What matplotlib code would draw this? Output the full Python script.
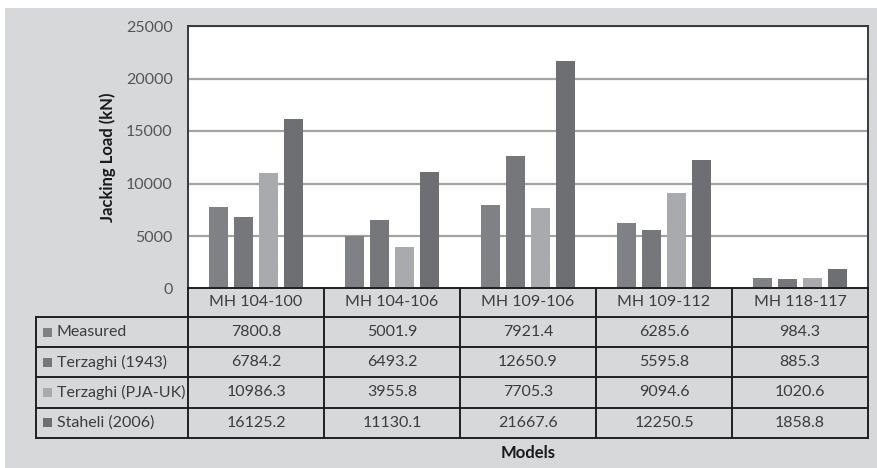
import matplotlib
matplotlib.use("Agg")
import matplotlib.pyplot as plt
from matplotlib.patches import Rectangle
import numpy as np

# ---- data ----
models = ["MH 104-100", "MH 104-106", "MH 109-106", "MH 109-112", "MH 118-117"]
series_names = ["Measured", "Terzaghi (1943)", "Terzaghi (PJA-UK)", "Staheli (2006)"]
measured = [7800.8, 5001.9, 7921.4, 6285.6, 984.3]
terzaghi_1943 = [6784.2, 6493.2, 12650.9, 5595.8, 885.3]
terzaghi_pja = [10986.3, 3955.8, 7705.3, 9094.6, 1020.6]
staheli_2006 = [16125.2, 11130.1, 21667.6, 12250.5, 1858.8]
series_values = [measured, terzaghi_1943, terzaghi_pja, staheli_2006]
y_ticks = [0, 5000, 10000, 15000, 20000, 25000]

colors = ["#808184", "#76777a", "#a9aaad", "#6e6f72"]
bg = "#d7d8da"
font = ["Lato", "DejaVu Sans"]
plt.rcParams["font.family"] = font

W, H = 877, 468
fig = plt.figure(figsize=(W / 100, H / 100), dpi=100, facecolor="white")

# gray panel behind everything
fig.patches.append(Rectangle((5 / W, 0), 1 - 5 / W, 1 - 8 / H,
                             transform=fig.transFigure, facecolor=bg,
                             edgecolor="none", zorder=-10))


def px_axes(left, top, right, bottom):
    return fig.add_axes([left / W, 1 - bottom / H, (right - left) / W, (bottom - top) / H])


# ---- bar chart ----
x_left, x_right, y_top, y_bot = 188, 868, 26, 288.5
ax = px_axes(x_left, y_top, x_right, y_bot)
ax.set_facecolor("white")
n = len(models)
xc = np.arange(n) + 0.5
offsets = [-0.274, -0.091, 0.092, 0.275]
bw = 0.14
for vals, off, c in zip(series_values, offsets, colors):
    ax.bar(xc + off, vals, width=bw, color=c, zorder=3)
ax.set_xlim(0, n)
ax.set_ylim(0, 25000)
ax.set_yticks(y_ticks)
ax.set_yticklabels([str(t) for t in y_ticks], fontsize=11.5, color="#555555")
ax.tick_params(axis="y", length=0, pad=11)
ax.set_xticks([])
ax.yaxis.grid(True, color="#a3a3a5", linewidth=1.6, zorder=1)
ax.set_axisbelow(True)
for s in ["left", "top", "right"]:
    ax.spines[s].set_color("#3a3a3a")
    ax.spines[s].set_linewidth(1.4)
ax.spines["bottom"].set_visible(False)
ax.set_ylabel("Jacking Load (kN)", fontsize=12, fontweight="bold", color="#1a1a1a", labelpad=7)

# ---- data table ----
tab_left, tab_top, tab_bot = 36, 288, 438
row_edges = [288, 317, 347, 377, 407.5, 438]
col_edges = [x_left + i * (x_right - x_left) / n for i in range(n + 1)]
tax = px_axes(0, tab_top - 2, W, tab_bot + 2)
tax.set_xlim(0, W)
tax.set_ylim(tab_bot + 2, tab_top - 2)
tax.axis("off")
tax.patch.set_alpha(0)

lc, lw = "#202020", 1.4
tax.plot([x_left, x_right], [row_edges[0]] * 2, color=lc, lw=lw)
for y in row_edges[1:]:
    tax.plot([tab_left, x_right], [y, y], color=lc, lw=lw)
tax.plot([tab_left, tab_left], [row_edges[1], row_edges[-1]], color=lc, lw=lw)
for x in col_edges:
    tax.plot([x, x], [row_edges[0], row_edges[-1]], color=lc, lw=lw)

txt_color = "#3c3c3c"
for j, m in enumerate(models):
    cx = (col_edges[j] + col_edges[j + 1]) / 2
    tax.text(cx, (row_edges[0] + row_edges[1]) / 2, m, ha="center", va="center",
             fontsize=11.5, color=txt_color)
for i, (name, vals, c) in enumerate(zip(series_names, series_values, colors)):
    cy = (row_edges[i + 1] + row_edges[i + 2]) / 2
    tax.add_patch(Rectangle((43, cy - 4.5), 9, 9, facecolor=c, edgecolor="none"))
    tax.text(57, cy, name, ha="left", va="center", fontsize=11.5, color=txt_color)
    for j, v in enumerate(vals):
        cx = (col_edges[j] + col_edges[j + 1]) / 2
        tax.text(cx, cy, f"{v:.1f}", ha="center", va="center", fontsize=11.5, color=txt_color)

fig.text((x_left + x_right) / 2 / W, 1 - 453 / H, "Models", ha="center", va="center",
         fontsize=12, fontweight="bold", color="#1a1a1a")

fig.savefig("out.png", dpi=100, facecolor="white")
